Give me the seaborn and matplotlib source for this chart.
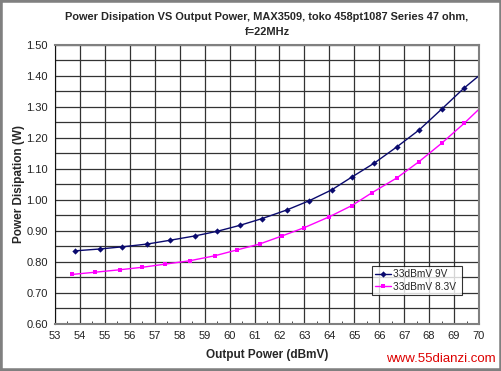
import matplotlib
matplotlib.use('Agg')
import matplotlib.pyplot as plt
from matplotlib.patches import Rectangle
import numpy as np
import pandas as pd
import seaborn as sns

# values
series_9v = '33dBmV 9V'
series_83v = '33dBmV 8.3V'
x_9v = [53.8, 54.8, 55.7, 56.7, 57.6, 58.6, 59.5, 60.4, 61.3, 62.3, 63.2,
        64.1, 64.9, 65.8, 66.7, 67.6, 68.5, 69.4, 70.3]
y_9v = [0.835, 0.841, 0.848, 0.857, 0.869, 0.883, 0.898, 0.917, 0.939, 0.967,
        0.997, 1.032, 1.073, 1.118, 1.170, 1.225, 1.292, 1.360, 1.42]
x_83v = [53.7, 54.6, 55.6, 56.5, 57.4, 58.4, 59.4, 60.3, 61.2, 62.1, 63.0,
         64.0, 64.9, 65.7, 66.7, 67.6, 68.5, 69.4, 70.3]
y_83v = [0.759, 0.766, 0.774, 0.782, 0.792, 0.803, 0.819, 0.838, 0.857, 0.883,
         0.910, 0.945, 0.981, 1.022, 1.070, 1.123, 1.182, 1.246, 1.315]
x_ticks = list(range(53, 71))
y_ticks = [0.60, 0.70, 0.80, 0.90, 1.00, 1.10, 1.20, 1.30, 1.40, 1.50]

df = pd.concat([
    pd.DataFrame({'x': x_9v, 'y': y_9v, 'series': series_9v}),
    pd.DataFrame({'x': x_83v, 'y': y_83v, 'series': series_83v}),
])

sns.set_style('white')
plt.rcParams['font.family'] = ['Liberation Sans', 'DejaVu Sans']

fig, ax = plt.subplots(figsize=(5.02, 3.71), dpi=100)
fig.subplots_adjust(left=55/502, right=479/502, top=1-44.7/371, bottom=1-323.7/371)

palette = {series_9v: '#0a0a6e', series_83v: '#ff00ff'}
sns.lineplot(data=df, x='x', y='y', hue='series', style='series', palette=palette,
             markers={series_9v: 'D', series_83v: 's'}, dashes=False,
             markersize=3.2, markeredgewidth=0, linewidth=1.0, sort=False, ax=ax)

ax.set_xlim(53, 70)
ax.set_ylim(0.60, 1.50)
ax.set_xticks(x_ticks)
ax.set_xticks(np.arange(53.5, 70, 1.0), minor=True)
ax.set_yticks(y_ticks)
ax.set_yticks(np.arange(0.65, 1.50, 0.1), minor=True)
ax.set_yticklabels(['%.2f' % v for v in y_ticks])
ax.grid(True, which='major', color='#333333', linewidth=0.9)
ax.grid(True, which='minor', axis='y', color='#333333', linewidth=0.9)
ax.tick_params(axis='both', which='major', labelsize=8, colors='#222222', length=3, pad=2)
ax.tick_params(axis='x', which='major', direction='inout', length=4, pad=3)
ax.tick_params(axis='y', which='minor', length=0)
ax.tick_params(axis='x', which='minor', direction='in', length=2, bottom=True)
for side in ['top', 'right', 'bottom']:
    ax.spines[side].set_color('#808080')
    ax.spines[side].set_linewidth(1.5)
ax.spines['left'].set_color('#111111')

ax.set_xlabel('Output Power (dBmV)', fontsize=8.5, fontweight='bold', labelpad=6)
ax.set_ylabel('Power Disipation (W)', fontsize=8.5, fontweight='bold', labelpad=1)
ax.set_title('Power Disipation VS Output Power, MAX3509, toko 458pt1087 Series 47 ohm,\nf=22MHz',
             fontsize=7.9, fontweight='bold', pad=7, linespacing=1.65)

leg = ax.legend(loc='lower left', bbox_to_anchor=(0.748, 0.103, 0.212, 0.097), mode='expand',
                fontsize=7.3, frameon=True, fancybox=False, borderpad=0.3, handlelength=1.6,
                handletextpad=0.2, labelspacing=0.25, borderaxespad=0)
leg.get_frame().set_edgecolor('black')
leg.get_frame().set_linewidth(0.8)

fig.text(0.987, 0.033, 'www.55dianzi.com', color='#dd0000', fontsize=9.5, ha='right', va='center')
fig.patches.append(Rectangle((0, 0), 1, 1, transform=fig.transFigure, fill=False,
                             edgecolor='#808080', linewidth=4))

fig.savefig('out.png', dpi=100)
